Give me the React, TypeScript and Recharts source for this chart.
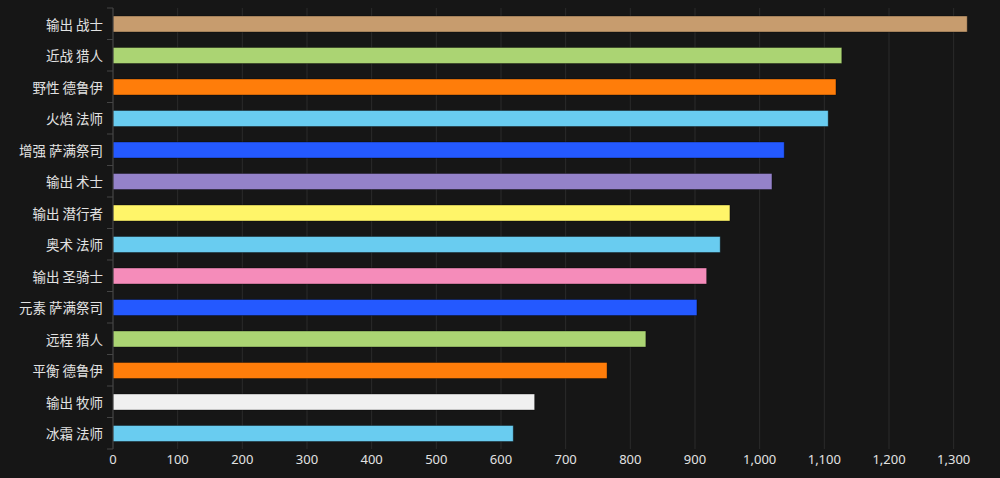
import React from 'react';
import { BarChart, Bar, Cell, XAxis, YAxis, CartesianGrid } from 'recharts';

const specs = [
  '输出 战士', '近战 猎人', '野性 德鲁伊', '火焰 法师', '增强 萨满祭司', '输出 术士', '输出 潜行者',
  '奥术 法师', '输出 圣骑士', '元素 萨满祭司', '远程 猎人', '平衡 德鲁伊', '输出 牧师', '冰霜 法师',
];
const scores = [1321, 1127, 1118, 1106, 1038, 1019, 954, 939, 918, 903, 824, 764, 652, 619];
const colors = [
  '#C79C6E', '#ABD473', '#FF7D0A', '#69CCF0', '#2459FF', '#9482C9', '#FFF569',
  '#69CCF0', '#F58CBA', '#2459FF', '#ABD473', '#FF7D0A', '#F0F0F0', '#69CCF0',
];
const xTicks = [0, 100, 200, 300, 400, 500, 600, 700, 800, 900, 1000, 1100, 1200, 1300];
const xMax = 1350;

const data = specs.map((name, i) => ({ name, score: scores[i] }));

const W = 1000;
const H = 478;
const TOP = 8;
const BOTTOM = 29;
const band = (H - TOP - BOTTOM) / specs.length;

const SpecTick = (props: any) => {
  const { x, y, payload, index } = props;
  return (
    <g>
      <text
        x={x - 2}
        y={y}
        textAnchor="end"
        dominantBaseline="central"
        fill="#e2e2e2"
        fontSize={13.5}
        fontFamily="'Noto Sans CJK SC', sans-serif"
      >
        {payload.value}
      </text>
      <line x1={x + 2} x2={x + 8} y1={y - band / 2} y2={y - band / 2} stroke="#444" />
      {index === specs.length - 1 && (
        <line x1={x + 2} x2={x + 8} y1={y + band / 2} y2={y + band / 2} stroke="#444" />
      )}
    </g>
  );
};

// grid only at the labelled ticks, not at the plot's right border
const gridX = ({ offset }: any) =>
  xTicks.map((t) => offset.left + (t / xMax) * offset.width);

export default function App() {
  return (
    <div style={{ position: 'absolute', left: 0, top: 0, width: W, height: H, background: '#161616' }}>
      <BarChart
        width={W}
        height={H}
        data={data}
        layout="vertical"
        margin={{ top: TOP, right: 14, left: 0, bottom: 4 }}
        barCategoryGap={0}
      >
        <CartesianGrid horizontal={false} stroke="#2b2b2b" verticalCoordinatesGenerator={gridX} />
        <XAxis
          type="number"
          domain={[0, xMax]}
          ticks={xTicks}
          axisLine={false}
          tickLine={false}
          height={25}
          tickSize={4}
          tick={{ fill: '#e2e2e2', fontSize: 13, fontFamily: "'Noto Sans', sans-serif" }}
          tickFormatter={(v: number) => v.toLocaleString('en-US')}
        />
        <YAxis
          type="category"
          dataKey="name"
          width={113}
          axisLine={{ stroke: '#444' }}
          tickLine={false}
          tickSize={6}
          interval={0}
          tick={<SpecTick />}
        />
        <Bar dataKey="score" barSize={16} isAnimationActive={false}>
          {data.map((d, i) => (
            <Cell key={d.name} fill={colors[i]} stroke="rgba(0,0,0,0.35)" strokeWidth={1} />
          ))}
        </Bar>
      </BarChart>
    </div>
  );
}
